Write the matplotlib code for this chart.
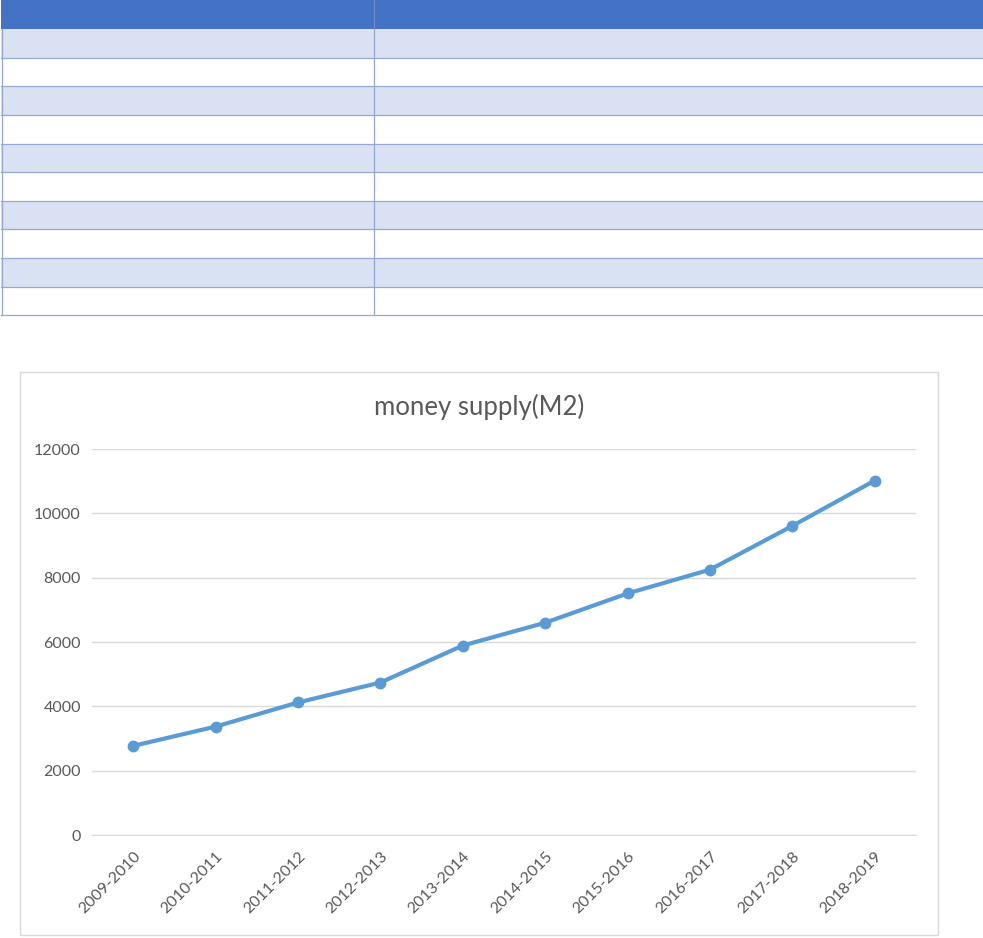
import matplotlib.pyplot as plt
import matplotlib.patches as patches

# Data
years = ['2009-2010', '2010-2011', '2011-2012', '2012-2013', '2013-2014',
         '2014-2015', '2015-2016', '2016-2017', '2017-2018', '2018-2019']
m2 = [2770, 3370, 4120, 4740, 5890, 6600, 7510, 8250, 9610, 11020]
yticks = [0, 2000, 4000, 6000, 8000, 10000, 12000]
n_rows = 10  # empty table rows above the chart

W, H = 983, 938
plt.rcParams['font.family'] = ['Lato', 'DejaVu Sans']
txt = '#595959'

fig = plt.figure(figsize=(W / 100, H / 100), dpi=100)

# background layer in pixel coordinates (table + chart frame)
bg = fig.add_axes([0, 0, 1, 1])
bg.set_xlim(0, W)
bg.set_ylim(H, 0)
bg.axis('off')

header_h = 29.3
row_h = 28.6
col_split = 374
line_c = '#93A8D2'
bg.add_patch(patches.Rectangle((1, 0), W - 1, header_h, facecolor='#4472C4', edgecolor='none'))
bg.plot([col_split, col_split], [0, header_h], color='#6F8FD0', lw=0.8)
for i in range(n_rows):
    y0 = header_h + i * row_h
    fc = '#D9E1F2' if i % 2 == 0 else 'white'
    bg.add_patch(patches.Rectangle((1, y0), W - 1, row_h, facecolor=fc, edgecolor='none'))
    bg.plot([1, W], [y0 + row_h, y0 + row_h], color=line_c, lw=0.9)
tbl_bottom = header_h + n_rows * row_h
bg.plot([1.5, 1.5], [header_h, tbl_bottom], color=line_c, lw=0.9)
bg.plot([col_split, col_split], [header_h, tbl_bottom], color=line_c, lw=0.9)

# chart frame
bg.add_patch(patches.Rectangle((20, 372), 918, 563, facecolor='white', edgecolor='#D9D9D9', lw=1))
bg.text(479, 407, 'money supply(M2)', fontsize=18.5, color=txt, ha='center', va='center')

# plot area
left, right, top, bottom = 92, 916, 449, 835
ax = fig.add_axes([left / W, (H - bottom) / H, (right - left) / W, (bottom - top) / H])
ax.set_facecolor('none')
x = list(range(len(years)))
ax.plot(x, m2, color='#5B9BD5', lw=3, marker='o', markersize=7.5, zorder=3)
ax.set_xlim(-0.5, len(years) - 0.5)
ax.set_ylim(0, 12000)
ax.set_yticks(yticks)
ax.set_yticklabels([str(v) for v in yticks], fontsize=11.5, color=txt)
ax.set_xticks(x)
ax.set_xticklabels(years, rotation=45, ha='right', rotation_mode='anchor', fontsize=11.5, color=txt)
ax.grid(axis='y', color='#D9D9D9', lw=1)
ax.set_axisbelow(True)
for s in ax.spines.values():
    s.set_visible(False)
ax.spines['bottom'].set_visible(True)
ax.spines['bottom'].set_color('#D9D9D9')
ax.tick_params(length=0, pad=8)
ax.tick_params(axis='x', pad=10)

fig.savefig('out.png', dpi=100, facecolor='white')
